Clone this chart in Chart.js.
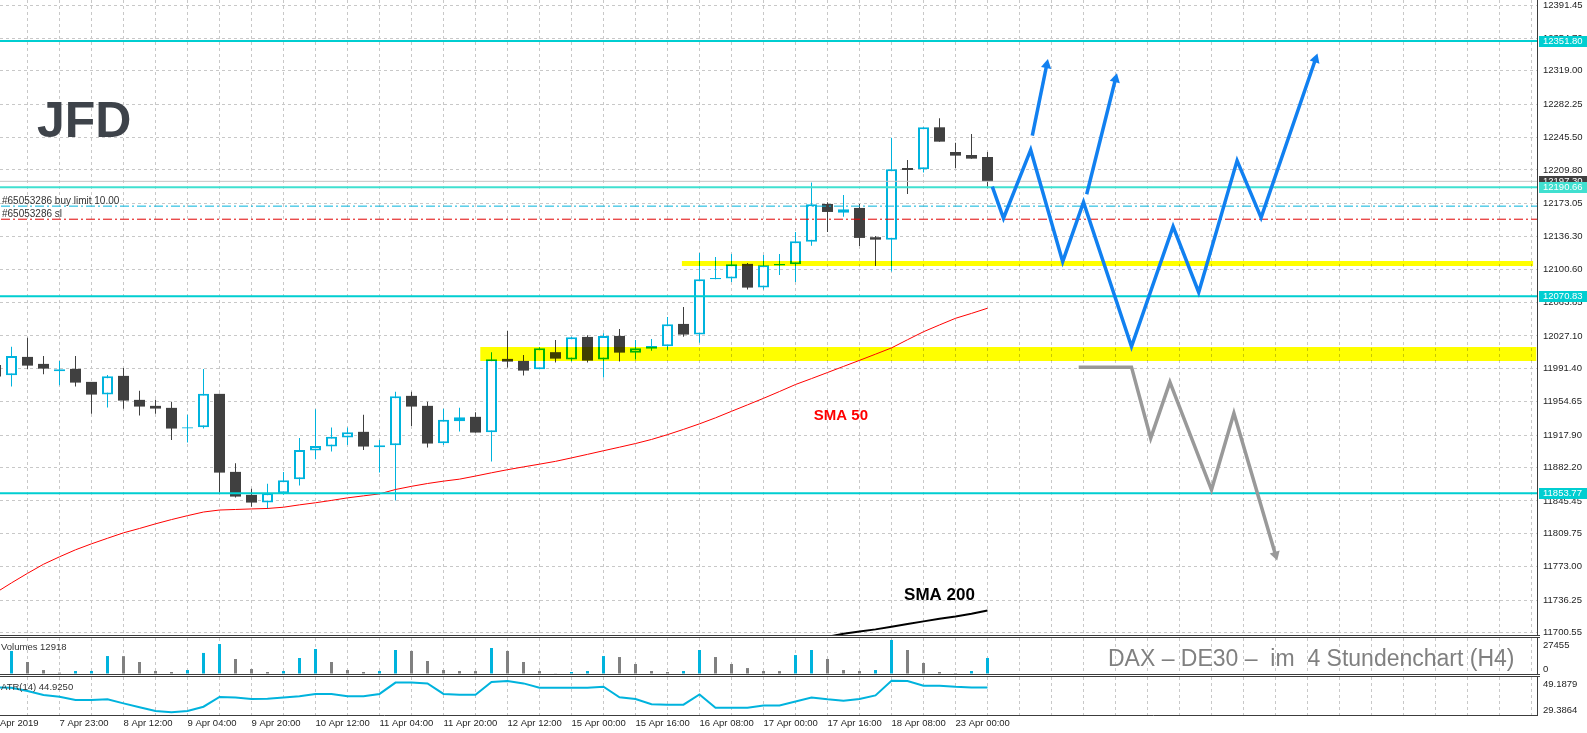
<!DOCTYPE html>
<html>
<head>
<meta charset="utf-8">
<script src="https://cdn.jsdelivr.net/npm/chart.js@4.4.1/dist/chart.umd.min.js"></script>
<style>
  html, body { margin: 0; padding: 0; background: #fff; }
  #wrap { position: relative; width: 1587px; height: 733px; overflow: hidden; background: #fff; }
  canvas { position: absolute; left: 0; }
  .sep { position: absolute; left: 0; width: 1540px; height: 1px; border-top: 1px solid #3c3c3c; border-bottom: 1px solid #3c3c3c; }
</style>
</head>
<body>
<div id="wrap">
  <canvas id="main" width="1587" height="635" style="top:0"></canvas>
  <div class="sep" style="top:635px"></div>
  <canvas id="vol" width="1587" height="36" style="top:638px"></canvas>
  <div class="sep" style="top:674px"></div>
  <canvas id="atr" width="1587" height="56" style="top:677px"></canvas>
</div>
<script>
// DAX / DE30 H4 candles, one entry per bar (bar 0 is the cut-off one at the left edge)
const candleOpen = [11995.2, 11983.9, 12004.0, 11996.3, 11988.3, 11990.8, 11976.5, 11962.5, 11983.1, 11956.7,
  11950.1, 11947.9, 11925.1, 11926.6, 11963.3, 11877.4, 11852.1, 11843.6, 11854.0, 11869.4,
  11900.9, 11905.3, 11915.2, 11921.5, 11904.6, 11906.8, 11961.1, 11950.1, 11909.0, 11933.2,
  11938.0, 11921.1, 12001.8, 11999.6, 11990.5, 12009.2, 12001.0, 12026.0, 12001.0, 12027.1,
  12008.7, 12013.1, 12015.8, 12040.3, 12028.6, 12089.5, 12090.2, 12106.4, 12080.3, 12104.5,
  12106.0, 12130.9, 12172.4, 12162.8, 12168.0, 12135.8, 12133.1, 12212.0, 12210.6, 12256.8,
  12229.6, 12226.3, 12224.1];
const candleHigh = [12000.0, 12015.3, 12025.2, 12005.1, 11999.6, 12005.1, 11976.5, 11984.2, 11991.9, 11966.6,
  11956.7, 11954.5, 11940.2, 11990.8, 11963.3, 11887.0, 11858.7, 11864.2, 11877.4, 11914.8,
  11946.4, 11926.2, 11926.2, 11940.2, 11912.6, 11965.5, 11965.5, 11954.5, 11946.8, 11947.9,
  11943.1, 12009.2, 12032.6, 12006.2, 12014.7, 12022.7, 12026.3, 12027.9, 12030.1, 12034.8,
  12022.7, 12023.8, 12048.0, 12059.0, 12118.5, 12114.1, 12117.4, 12107.5, 12116.3, 12117.4,
  12141.6, 12195.9, 12174.3, 12182.3, 12172.4, 12137.2, 12245.4, 12220.8, 12256.8, 12266.7,
  12239.9, 12249.5, 12229.6];
const candleLow = [11978.0, 11971.3, 11990.5, 11985.0, 11972.9, 11971.3, 11941.3, 11948.2, 11946.8, 11939.4,
  11941.3, 11912.6, 11909.7, 11925.1, 11854.6, 11849.1, 11838.9, 11836.4, 11852.1, 11862.3,
  11891.4, 11899.8, 11907.1, 11901.6, 11876.6, 11845.8, 11928.0, 11904.2, 11907.1, 11921.8,
  11920.7, 11888.8, 11992.2, 11983.4, 11990.5, 11997.7, 11998.8, 11997.7, 11981.2, 11998.8,
  12001.0, 12010.9, 12012.0, 12026.3, 12019.7, 12089.5, 12086.6, 12078.1, 12078.1, 12094.3,
  12086.6, 12126.5, 12141.6, 12158.4, 12126.2, 12104.2, 12097.9, 12183.4, 12206.9, 12241.0,
  12212.0, 12222.3, 12189.7];
const candleClose = [11982.5, 12005.1, 11994.4, 11991.1, 11990.5, 11975.7, 11962.5, 11982.8, 11955.9, 11949.3,
  11947.1, 11925.1, 11926.6, 11963.3, 11876.6, 11850.2, 11843.6, 11854.0, 11868.3, 11901.6,
  11906.0, 11916.0, 11921.1, 11905.3, 11906.8, 11960.7, 11949.3, 11908.6, 11934.7, 11937.6,
  11920.7, 12001.5, 11998.8, 11988.9, 12013.6, 12002.1, 12025.7, 11999.9, 12027.1, 12008.7,
  12013.6, 12016.1, 12040.0, 12028.6, 12089.5, 12091.0, 12106.0, 12080.3, 12104.9, 12106.4,
  12131.4, 12172.1, 12163.6, 12166.6, 12135.0, 12133.1, 12210.6, 12209.8, 12256.8, 12241.0,
  12225.6, 12222.3, 12197.3];

const volumes = [null, 18600, 9700, 3200, 1100, 2400, 2450, 14500, 14400, 9700,
  2400, 1600, 3200, 17000, 24200, 12100, 4000, 1600, 2400, 12900,
  20200, 9700, 3200, 1600, 2400, 19400, 18600, 10500, 3200, 2400,
  2350, 21000, 18600, 9700, 2400, 550, 1600, 2400, 14500, 13700,
  8100, 2400, 1600, 2400, 19400, 13700, 8100, 4800, 2400, 2350,
  15300, 19400, 12100, 3200, 2400, 3200, 27455, 19400, 8900, 1600,
  800, 2400, 12918];

const atr14 = [45.0, 44.8, 42.7, 40.2, 39.2, 37.1, 37.1, 37.5, 35.0, 32.5,
  30.2, 29.3864, 30.2, 32.9, 39.0, 38.6, 37.7, 37.9, 38.6, 39.4,
  40.9, 40.9, 39.4, 39.4, 40.9, 48.0, 48.0, 47.5, 40.9, 40.4,
  40.4, 48.4, 49.0, 47.5, 44.8, 44.8, 44.8, 44.8, 45.4, 38.8,
  37.7, 34.4, 34.2, 34.2, 40.6, 32.3, 32.3, 32.3, 33.6, 33.6,
  36.1, 38.6, 37.5, 36.7, 37.7, 40.0, 49.1879, 49.0, 46.1, 46.1,
  45.4, 45.0, 44.925];

const sma50 = [11744.2, 11755.2, 11765.7, 11775.7, 11783.9, 11791.6, 11798.2, 11804.3, 11810.3, 11815.1,
  11820.2, 11824.9, 11829.2, 11833.2, 11835.4, 11836.0, 11836.6, 11837.1, 11838.5, 11841.1,
  11843.4, 11846.0, 11848.8, 11851.0, 11853.2, 11858.0, 11861.5, 11864.6, 11867.2, 11869.4,
  11872.8, 11876.4, 11879.8, 11882.9, 11885.9, 11889.0, 11892.8, 11896.7, 11900.7, 11904.6,
  11908.6, 11913.1, 11918.4, 11924.2, 11930.3, 11936.9, 11944.1, 11951.2, 11958.4, 11965.9,
  11973.6, 11980.1, 11986.8, 11993.5, 12000.2, 12007.0, 12013.9, 12022.9, 12031.7, 12039.2,
  12046.5, 12051.9, 12057.6];

// SMA 200 only shows up at the right end, starting at bar 51
const sma200Start = 51;
const sma200 = [11692.5, 11695.8, 11699.1, 11701.6, 11704.0, 11706.9, 11709.9, 11712.8, 11715.7, 11718.1, 11721.1, 11724.7];

const timeLabels = ['7 Apr 23:00', '8 Apr 12:00', '9 Apr 04:00', '9 Apr 20:00', '10 Apr 12:00', '11 Apr 04:00',
  '11 Apr 20:00', '12 Apr 12:00', '15 Apr 00:00', '15 Apr 16:00', '16 Apr 08:00', '17 Apr 00:00',
  '17 Apr 16:00', '18 Apr 08:00', '23 Apr 00:00'];
const firstTimeLabel = 'Apr 2019';

const priceTicks = [12391.45, 12354.70, 12319.00, 12282.25, 12245.50, 12209.80, 12173.05, 12136.30, 12100.60, 12063.85,
  12027.10, 11991.40, 11954.65, 11917.90, 11882.20, 11845.45, 11809.75, 11773.00, 11736.25, 11700.55];

// horizontal levels
const levelLines = [12351.80, 12190.66, 12070.83, 11853.77];
const bidPrice = 12197.30;
const buyLimitPrice = 12170.0;
const stopLossPrice = 12155.6;

// yellow zones: [low, high] price and bar range
const zoneUpper = [12104.2, 12109.7];
const zoneUpperBars = [42.9, 96.1];
const zoneLower = [11999.6, 12015.0];
const zoneLowerBars = [30.3, 96.3];

// scenario arrows drawn on the chart: [bar, price]
const arrowMain = [[62.3, 12191.4], [63.0, 12156.7], [64.7, 12231.9], [66.7, 12108.9], [68.0, 12174.3], [71.0, 12015.3],
  [73.6, 12147.4], [75.2, 12075.2], [77.6, 12220.1], [79.1, 12157.3], [82.5, 12331.7]];
const arrowUp1 = [[64.8, 12247.6], [65.7, 12325.4]];
const arrowUp2 = [[68.2, 12183.1], [70.0, 12310.0]];
const arrowDown = [[67.7, 11992.7], [71.0, 11992.7], [72.2, 11914.5], [73.4, 11976.2], [76.0, 11857.6], [77.4, 11942.0], [80.0, 11786.1]];

const X_MIN = 0.28125, X_MAX = 96.34375;
const Y_MIN = 11697.8, Y_MAX = 12396.96;

const FONT = "'Liberation Sans', Arial, sans-serif";
const CYAN = '#00b3dd';
const DARK = '#404040';
const GRID = '#c8c8c8';
const TURQ = '#40e0d0';
const DTURQ = '#00ced1';
const BLUE = '#1180f0';

function noPad(s) {
  s.paddingTop = 0; s.paddingBottom = 0; s.paddingLeft = 0; s.paddingRight = 0;
}

function xScale(showLabels) {
  return {
    type: 'linear', min: X_MIN, max: X_MAX, offset: false,
    afterBuildTicks: s => {
      const t = [];
      if (showLabels) t.push({ value: X_MIN });
      for (let k = 2; k <= 96; k += 2) t.push({ value: k });
      s.ticks = t;
    },
    afterFit: s => { s.height = showLabels ? 18 : 0; noPad(s); },
    grid: {
      color: c => (c.tick && c.tick.value === X_MIN) ? 'rgba(0,0,0,0)' : GRID,
      drawTicks: false, offset: false
    },
    border: { display: showLabels, color: '#3c3c3c', dash: [3, 3] },
    ticks: {
      display: showLabels, autoSkip: false, maxRotation: 0, minRotation: 0, align: 'start', padding: 3,
      color: '#1e1e1e', font: { family: FONT, size: 9.5 },
      callback: v => {
        if (v === X_MIN) return firstTimeLabel;
        const j = (v - 4) / 4;
        return (Number.isInteger(j) && j >= 0 && j < timeLabels.length) ? timeLabels[j] : '';
      }
    }
  };
}

function hLine(value, color, width, dash) {
  return {
    type: 'line', data: [{ x: X_MIN - 1, y: value }, { x: X_MAX + 1, y: value }],
    borderColor: color, borderWidth: width, borderDash: dash, pointRadius: 0, order: 10
  };
}

function zone(range, bars) {
  const mid = (range[0] + range[1]) / 2;
  return {
    type: 'line', blend: true, order: 12,
    data: [{ x: bars[0], y: mid }, { x: bars[1], y: mid }],
    borderColor: '#ffff00', borderCapStyle: 'butt', pointRadius: 0,
    borderWidth: c => {
      const y = c.chart.scales.y;
      return Math.abs(y.getPixelForValue(range[0]) - y.getPixelForValue(range[1]));
    }
  };
}

function arrow(points, color) {
  const n = points.length;
  return {
    type: 'line', order: 2,
    data: points.map(p => ({ x: p[0], y: p[1] })),
    borderColor: color, backgroundColor: color, borderWidth: 3.5, borderJoinStyle: 'miter',
    pointStyle: 'triangle', pointBorderWidth: 0,
    pointRadius: c => c.dataIndex === n - 1 ? 6 : 0,
    pointRotation: c => {
      if (c.dataIndex !== n - 1) return 0;
      const xs = c.chart.scales.x, ys = c.chart.scales.y;
      const dx = xs.getPixelForValue(points[n - 1][0]) - xs.getPixelForValue(points[n - 2][0]);
      const dy = ys.getPixelForValue(points[n - 1][1]) - ys.getPixelForValue(points[n - 2][1]);
      return Math.atan2(dx, -dy) * 180 / Math.PI;
    }
  };
}

const bull = candleClose.map((c, k) => c >= candleOpen[k]);

const mainDatasets = [
  {
    type: 'bar', order: 20, grouped: false, barThickness: 1, inflateAmount: 0,
    data: candleHigh.map((h, k) => ({ x: k, y: [candleLow[k], h] })),
    backgroundColor: bull.map(b => b ? CYAN : DARK), borderWidth: 0
  },
  {
    type: 'bar', order: 19, grouped: false, barThickness: 11, inflateAmount: 0, borderSkipped: false,
    data: candleOpen.map((o, k) => ({ x: k, y: [o, candleClose[k]] })),
    backgroundColor: bull.map(b => b ? '#ffffff' : DARK),
    borderColor: bull.map(b => b ? CYAN : DARK),
    borderWidth: bull.map(b => b ? 2 : 0)
  },
  {
    type: 'line', order: 15, data: sma50.map((v, k) => ({ x: k, y: v })),
    borderColor: '#ff0000', borderWidth: 1, pointRadius: 0
  },
  {
    type: 'line', order: 15, data: sma200.map((v, j) => ({ x: sma200Start + j, y: v })),
    borderColor: '#000000', borderWidth: 2, pointRadius: 0
  },
  zone(zoneUpper, zoneUpperBars),
  zone(zoneLower, zoneLowerBars),
  hLine(bidPrice, '#c4c4c4', 1, []),
  hLine(buyLimitPrice, CYAN, 1, [9, 3, 2, 3]),
  hLine(stopLossPrice, '#e00000', 1, [9, 3, 2, 3])
];
levelLines.forEach((v, i) => mainDatasets.push(hLine(v, i === 1 ? TURQ : DTURQ, 2, [])));
mainDatasets.push(arrow(arrowDown, '#999999'));
mainDatasets.push(arrow(arrowMain, BLUE));
mainDatasets.push(arrow(arrowUp1, BLUE));
mainDatasets.push(arrow(arrowUp2, BLUE));

function priceBox(ctx, chart, value, bg, fg) {
  const y = chart.scales.y.getPixelForValue(value);
  const left = chart.chartArea.right + 2;
  ctx.fillStyle = bg;
  ctx.fillRect(left, Math.round(y) - 5, chart.width - left, 11);
  ctx.fillStyle = fg;
  ctx.font = '9.5px ' + FONT;
  ctx.textAlign = 'left';
  ctx.textBaseline = 'middle';
  ctx.fillText(value.toFixed(2), left + 4, Math.round(y) + 0.5);
}

const mainDecor = {
  id: 'mainDecor',
  beforeDatasetDraw(chart, args) {
    if (chart.data.datasets[args.index].blend) {
      chart.ctx.save();
      chart.ctx.globalCompositeOperation = 'multiply';
    }
  },
  afterDatasetDraw(chart, args) {
    if (chart.data.datasets[args.index].blend) chart.ctx.restore();
  },
  afterDraw(chart) {
    const ctx = chart.ctx, xs = chart.scales.x, ys = chart.scales.y;
    ctx.save();
    // order labels
    ctx.font = '10px ' + FONT;
    ctx.fillStyle = '#333333';
    ctx.textAlign = 'left';
    ctx.textBaseline = 'alphabetic';
    ctx.fillText('#65053286 buy limit 10.00', 2, ys.getPixelForValue(buyLimitPrice) - 2);
    ctx.fillText('#65053286 sl', 2, ys.getPixelForValue(stopLossPrice) - 2);
    // moving average names
    ctx.textAlign = 'center';
    ctx.textBaseline = 'middle';
    ctx.font = 'bold 15px ' + FONT;
    ctx.fillStyle = '#ff0000';
    ctx.fillText('SMA 50', xs.getPixelForValue(52.84), ys.getPixelForValue(11939.6));
    ctx.font = 'bold 17px ' + FONT;
    ctx.fillStyle = '#000000';
    ctx.fillText('SMA 200', xs.getPixelForValue(59.0), ys.getPixelForValue(11742.0));
    // logo
    ctx.font = 'bold 50px ' + FONT;
    ctx.textAlign = 'left';
    ctx.textBaseline = 'alphabetic';
    ctx.fillStyle = '#3e434a';
    ctx.fillText('JFD', 37, 137);
    // price boxes on the axis
    priceBox(ctx, chart, bidPrice, '#404040', '#ffffff');
    levelLines.forEach((v, i) => priceBox(ctx, chart, v, i === 1 ? TURQ : DTURQ, '#ffffff'));
    ctx.restore();
  }
};

const common = {
  responsive: false, devicePixelRatio: 1, animation: false, events: [],
  layout: { padding: 0, autoPadding: false },
  plugins: { legend: { display: false }, tooltip: { enabled: false } }
};

function sideScale(min, max) {
  return {
    type: 'linear', position: 'right', min: min, max: max,
    afterFit: s => { s.width = 50; noPad(s); },
    grid: { drawOnChartArea: false, drawTicks: false },
    border: { display: true, color: '#3c3c3c' },
    ticks: { display: false }
  };
}

new Chart(document.getElementById('main'), {
  type: 'line',
  data: { datasets: mainDatasets },
  options: Object.assign({}, common, {
    scales: {
      x: xScale(false),
      y: {
        type: 'linear', position: 'right', min: Y_MIN, max: Y_MAX,
        afterBuildTicks: s => { s.ticks = priceTicks.map(v => ({ value: v })); },
        afterFit: s => { s.width = 50; noPad(s); },
        grid: { color: GRID, drawTicks: false },
        border: { display: true, color: '#3c3c3c', dash: [3, 3] },
        ticks: { autoSkip: false, padding: 6, color: '#1e1e1e', font: { family: FONT, size: 9.5 }, callback: v => v.toFixed(2) }
      }
    }
  }),
  plugins: [mainDecor]
});

// volumes: cyan when volume rose against the previous bar, grey when it fell
const volPoints = [], volColors = [];
volumes.forEach((v, k) => {
  if (v === null) return;
  const prev = k > 0 ? volumes[k - 1] : null;
  volPoints.push({ x: k, y: v });
  volColors.push(prev === null || v > prev ? CYAN : '#808080');
});
const volMax = Math.max(...volPoints.map(p => p.y));

function sideLabels(ctx, chart, top, bottom) {
  ctx.font = '9.5px ' + FONT;
  ctx.fillStyle = '#1e1e1e';
  ctx.textAlign = 'left';
  ctx.textBaseline = 'middle';
  const x = chart.chartArea.right + 6;
  ctx.fillText(top, x, chart.chartArea.top + 7);
  ctx.fillText(bottom, x, chart.chartArea.bottom - 5);
}

new Chart(document.getElementById('vol'), {
  type: 'bar',
  data: { datasets: [{ data: volPoints, backgroundColor: volColors, barThickness: 3, grouped: false, inflateAmount: 0, borderWidth: 0 }] },
  options: Object.assign({}, common, {
    scales: { x: xScale(false), y: sideScale(0, 29070) }
  }),
  plugins: [{
    id: 'volDecor',
    afterDraw(chart) {
      const ctx = chart.ctx;
      ctx.save();
      ctx.font = '9.5px ' + FONT;
      ctx.fillStyle = '#333333';
      ctx.textAlign = 'left';
      ctx.textBaseline = 'middle';
      ctx.fillText('Volumes ' + volumes[volumes.length - 1], 1, 9);
      sideLabels(ctx, chart, String(volMax), '0');
      ctx.font = '23px ' + FONT;
      ctx.fillStyle = '#808080';
      ctx.textBaseline = 'alphabetic';
      ctx.fillText('DAX \u2013 DE30 \u2013  im  4 Stundenchart (H4)', 1108, 28);
      ctx.restore();
    }
  }]
});

const atrMax = Math.max(...atr14), atrMin = Math.min(...atr14);

new Chart(document.getElementById('atr'), {
  type: 'line',
  data: { datasets: [{ data: atr14.map((v, k) => ({ x: k, y: v })), borderColor: CYAN, borderWidth: 2, pointRadius: 0 }] },
  options: Object.assign({}, common, {
    scales: { x: xScale(true), y: sideScale(27.70, 51.51) }
  }),
  plugins: [{
    id: 'atrDecor',
    afterDraw(chart) {
      const ctx = chart.ctx;
      ctx.save();
      ctx.font = '9.5px ' + FONT;
      ctx.fillStyle = '#333333';
      ctx.textAlign = 'left';
      ctx.textBaseline = 'middle';
      ctx.fillText('ATR(14) ' + atr14[atr14.length - 1].toFixed(4), 1, 10);
      sideLabels(ctx, chart, atrMax.toFixed(4), atrMin.toFixed(4));
      ctx.restore();
    }
  }]
});
</script>
</body>
</html>
